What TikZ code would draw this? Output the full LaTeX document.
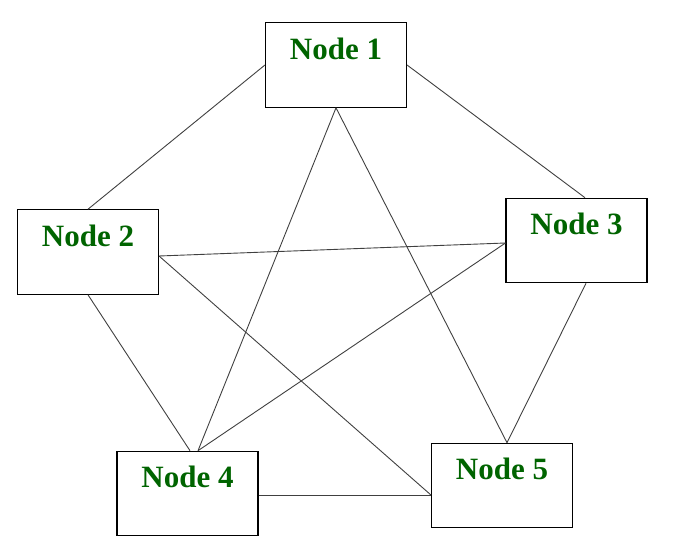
\documentclass[tikz,border=0pt]{standalone}
\usepackage{fontspec}
\setmainfont{Liberation Serif}
\definecolor{nodegreen}{RGB}{0,100,0}
\begin{document}
\begin{tikzpicture}[x=1pt, y=-1pt,
        netnode/.style={draw=black, line width=1.1pt, fill=white, inner sep=0pt,
            minimum width=141pt, text height=36.5pt, text depth=48pt,
            text=nodegreen, font=\fontsize{31}{36}\selectfont\bfseries},
        link/.style={draw=black!75, line width=0.9pt}]
        \useasboundingbox (0,0) rectangle (691,554);

        % Centres of the boxes
        \coordinate (c1) at (336,65);
        \coordinate (c2) at (88,252);
        \coordinate (c3) at (576.5,240.5);
        \coordinate (c4) at (187.5,493.5);
        \coordinate (c5) at (502,485.5);

        % Nodes
        \node[netnode] (n1) at (c1) {Node 1};
        \node[netnode] (n2) at (c2) {Node 2};
        \node[netnode] (n3) at (c3) {Node 3};
        \node[netnode] (n4) at (c4) {Node 4};
        \node[netnode] (n5) at (c5) {Node 5};

        % Outer ring
        \draw[link] (n1.west) -- (n2.north);
        \draw[link] (n1.east) -- ([xshift=8.5pt]n3.north);
        \draw[link] ([xshift=9.5pt]n3.south) -- ([xshift=5pt]n5.north);
        \draw[link] ([yshift=-1.5pt]n4.east) -- ([yshift=-9.5pt]n5.west);
        \draw[link] (n2.south) -- ([xshift=2.5pt]n4.north);

        % Inner star
        \draw[link] (n1.south) -- ([xshift=10.5pt]n4.north);
        \draw[link] (n1.south) -- ([xshift=5pt]n5.north);
        \draw[link] ([yshift=-4pt]n2.east) -- ([yshift=-2.5pt]n3.west);
        \draw[link] ([yshift=-4pt]n2.east) -- ([yshift=-9.5pt]n5.west);
        \draw[link] ([yshift=-2.5pt]n3.west) -- ([xshift=10.5pt]n4.north);
\end{tikzpicture}
\end{document}
